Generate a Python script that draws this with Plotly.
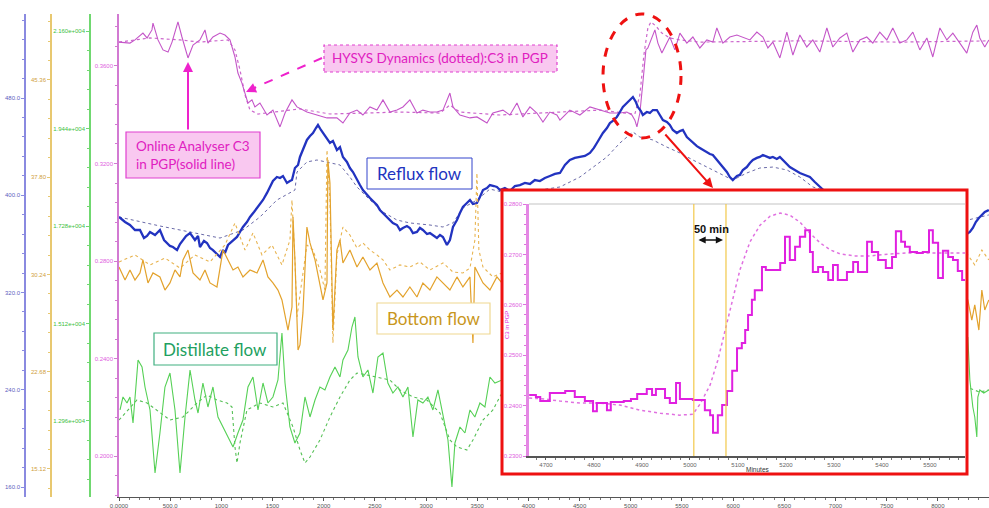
import plotly.graph_objects as go

# ---------------- main trend: time axis in minutes ----------------
c3_online_t = [0, 107, 156, 234, 274, 322, 332, 381, 430, 479,
               518, 576, 615, 674, 723, 791, 840, 869, 918, 987,
               1035, 1084, 1133, 1162, 1201, 1231, 1260, 1299, 1328, 1377,
               1446, 1504, 1573, 1622, 1690, 1739, 1836, 1934, 2032, 2129,
               2188, 2256, 2325, 2383, 2452, 2520, 2579, 2647, 2716, 2774,
               2842, 2911, 2969, 3038, 3106, 3165, 3233, 3263, 3331, 3429,
               3497, 3595, 3653, 3751, 3819, 3888, 3946, 4015, 4083, 4142,
               4210, 4278, 4308, 4405, 4503, 4601, 4698, 4796, 4894, 4962,
               5011, 5040, 5060, 5089, 5118, 5148, 5167, 5206, 5236, 5265,
               5304, 5333, 5382, 5431, 5480, 5548, 5607, 5675, 5743, 5802,
               5841, 5900, 5968, 6037, 6095, 6164, 6232, 6291, 6340, 6388,
               6457, 6525, 6584, 6652, 6720, 6779, 6847, 6916, 6974, 7043,
               7111, 7170, 7238, 7306, 7365, 7433, 7502, 7560, 7629, 7697,
               7756, 7824, 7893, 7951, 8020, 8088, 8147, 8215, 8283, 8342,
               8381, 8410, 8459, 8498]
c3_online = [0.3698, 0.3694, 0.3707, 0.3735, 0.3715, 0.3748, 0.3776, 0.3707, 0.3666, 0.3657,
             0.3698, 0.3781, 0.3719, 0.3633, 0.3686, 0.3707, 0.3748, 0.3694, 0.3719, 0.3735,
             0.3727, 0.3707, 0.3637, 0.3571, 0.3530, 0.3489, 0.3448, 0.3461, 0.3432, 0.3448,
             0.3399, 0.3419, 0.3350, 0.3407, 0.3461, 0.3432, 0.3411, 0.3399, 0.3387, 0.3387,
             0.3366, 0.3407, 0.3419, 0.3399, 0.3432, 0.3419, 0.3461, 0.3411, 0.3419, 0.3432,
             0.3461, 0.3407, 0.3419, 0.3411, 0.3411, 0.3419, 0.3489, 0.3432, 0.3399, 0.3387,
             0.3391, 0.3366, 0.3407, 0.3419, 0.3399, 0.3448, 0.3391, 0.3432, 0.3407, 0.3370,
             0.3411, 0.3399, 0.3378, 0.3419, 0.3399, 0.3432, 0.3419, 0.3407, 0.3407, 0.3411,
             0.3399, 0.3378, 0.3350, 0.3407, 0.3530, 0.3666, 0.3674, 0.3719, 0.3748, 0.3694,
             0.3653, 0.3678, 0.3719, 0.3666, 0.3735, 0.3694, 0.3719, 0.3674, 0.3707, 0.3698,
             0.3756, 0.3694, 0.3719, 0.3727, 0.3719, 0.3707, 0.3739, 0.3719, 0.3674, 0.3698,
             0.3633, 0.3739, 0.3645, 0.3727, 0.3678, 0.3707, 0.3657, 0.3756, 0.3678, 0.3715,
             0.3735, 0.3657, 0.3707, 0.3719, 0.3694, 0.3739, 0.3707, 0.3756, 0.3694, 0.3707,
             0.3739, 0.3666, 0.3715, 0.3637, 0.3756, 0.3707, 0.3735, 0.3694, 0.3653, 0.3739,
             0.3768, 0.3715, 0.3678, 0.3707]

c3_hysys_t = [0, 303, 596, 791, 1065, 1133, 1182, 1231, 1280, 1358,
              1768, 2061, 2745, 3136, 3233, 3331, 3722, 4308, 4698, 4943,
              5040, 5089, 5128, 5167, 5197, 5245, 5304, 5382, 5480, 5675,
              6652, 7629, 8498]
c3_hysys = [0.3698, 0.3715, 0.3707, 0.3698, 0.3707, 0.3666, 0.3584, 0.3481, 0.3419, 0.3403,
            0.3424, 0.3403, 0.3411, 0.3407, 0.3440, 0.3411, 0.3399, 0.3411, 0.3419, 0.3407,
            0.3403, 0.3481, 0.3645, 0.3756, 0.3781, 0.3764, 0.3735, 0.3715, 0.3707, 0.3698,
            0.3703, 0.3698, 0.3703]

reflux_t = [0, 59, 107, 156, 205, 244, 274, 303, 352, 400,
            440, 469, 498, 527, 567, 596, 625, 655, 694, 742,
            772, 791, 830, 860, 889, 918, 957, 987, 1016, 1035,
            1065, 1084, 1114, 1153, 1182, 1211, 1250, 1280, 1319, 1348,
            1377, 1407, 1446, 1475, 1504, 1543, 1573, 1602, 1641, 1670,
            1690, 1719, 1749, 1768, 1807, 1836, 1866, 1895, 1924, 1944,
            1973, 1993, 2022, 2061, 2090, 2129, 2159, 2188, 2227, 2256,
            2286, 2325, 2354, 2383, 2423, 2452, 2491, 2520, 2549, 2579,
            2618, 2647, 2676, 2716, 2745, 2774, 2813, 2842, 2872, 2911,
            2940, 2969, 3009, 3038, 3077, 3106, 3136, 3165, 3204, 3233,
            3263, 3302, 3331, 3360, 3399, 3429, 3458, 3497, 3526, 3556,
            3595, 3624, 3663, 3692, 3722, 3770, 3819, 3868, 3917, 3966,
            4015, 4063, 4112, 4161, 4210, 4259, 4308, 4357, 4405, 4454,
            4503, 4552, 4601, 4640, 4669, 4698, 4728, 4767, 4796, 4825,
            4864, 4894, 4923, 4952, 4991, 5021, 5050, 5069, 5099, 5118,
            5157, 5187, 5216, 5255, 5284, 5314, 5353, 5382, 5411, 5450,
            5480, 5509, 5548, 5577, 5607, 5646, 5675, 5704, 5743, 5773,
            5802, 5841, 5870, 5900, 5939, 5968, 5997, 6037, 6066, 6095,
            6134, 6164, 6193, 6232, 6261, 6291, 6330, 6359, 6388, 6427,
            6457, 6505, 6554, 6603, 6652, 6701, 6750, 6798, 6847, 6896,
            6945, 7043, 7238, 7433, 7629, 7824, 8020, 8215, 8283, 8313,
            8342, 8371, 8401, 8430, 8459, 8498]
reflux = [382.1, 378.0, 375.5, 371.4, 371.4, 364.8, 366.5, 369.8, 367.3, 371.4,
          363.2, 360.7, 358.3, 357.4, 354.9, 359.9, 363.2, 366.5, 368.9, 363.2,
          366.5, 357.4, 362.4, 360.7, 356.6, 354.9, 351.7, 349.2, 354.9, 352.5,
          359.1, 360.7, 363.2, 365.7, 369.8, 373.9, 378.0, 382.1, 386.2, 389.5,
          392.8, 396.1, 401.9, 406.8, 411.7, 415.0, 414.2, 415.8, 410.1, 411.7,
          412.5, 422.4, 424.9, 431.5, 438.9, 445.5, 448.7, 451.2, 455.3, 457.8,
          453.7, 451.2, 447.1, 443.0, 444.7, 437.2, 439.6, 431.5, 427.4, 422.4,
          419.1, 412.5, 408.4, 404.3, 400.2, 397.7, 394.4, 392.0, 387.9, 385.4,
          382.1, 379.6, 377.2, 375.5, 371.4, 373.1, 374.7, 373.1, 368.9, 369.8,
          373.1, 371.4, 368.1, 368.9, 366.5, 364.8, 367.3, 365.7, 359.1, 363.2,
          373.9, 379.6, 385.4, 390.3, 393.6, 396.1, 392.8, 393.6, 398.5, 404.3,
          405.9, 408.4, 407.6, 406.8, 404.3, 405.9, 403.5, 407.6, 408.4, 410.1,
          409.3, 412.5, 411.7, 414.2, 415.8, 417.5, 418.3, 424.9, 429.0, 430.7,
          431.5, 432.3, 434.8, 438.9, 443.0, 447.1, 451.2, 455.3, 459.4, 461.1,
          464.4, 468.5, 472.6, 475.1, 478.4, 480.8, 476.7, 472.6, 469.3, 466.0,
          468.5, 467.7, 470.1, 470.1, 466.0, 461.9, 460.3, 457.8, 453.7, 451.2,
          452.8, 453.7, 447.9, 445.5, 443.0, 440.4, 438.9, 437.2, 435.6, 433.9,
          433.1, 429.0, 426.5, 423.2, 419.1, 415.0, 412.5, 415.8, 416.7, 420.8,
          423.2, 426.5, 429.0, 430.7, 431.5, 433.1, 431.5, 430.7, 431.5, 429.8,
          431.5, 427.4, 423.2, 420.8, 418.3, 416.7, 415.0, 410.9, 406.8, 403.5,
          399.3, 396.1, 392.0, 387.9, 383.8, 379.6, 373.1, 368.9, 368.1, 369.8,
          373.1, 378.0, 381.3, 383.8, 386.2, 387.9]

reflux_hysys_t = [0, 205, 400, 596, 791, 987, 1211, 1377, 1543, 1670,
                  1719, 1739, 1836, 1934, 2032, 2159, 2256, 2325, 2452, 2579,
                  2716, 2842, 3038, 3165, 3263, 3360, 3497, 3624, 3741, 3917,
                  4112, 4308, 4503, 4630, 4767, 4894, 4962, 5021, 5089, 5216,
                  5353, 5480, 5607, 5743, 5870, 5997, 6134, 6261, 6388, 6525,
                  6652, 6779, 7043, 7629, 8215, 8498]
reflux_hysys = [382.1, 378.0, 374.7, 371.4, 368.1, 364.8, 371.4, 382.1, 396.1, 401.9,
                404.3, 419.1, 427.4, 429.0, 427.4, 424.9, 415.0, 406.8, 396.1, 386.2,
                379.6, 377.2, 375.5, 373.9, 377.2, 389.5, 396.1, 405.1, 402.7, 401.9,
                404.3, 406.8, 415.0, 423.2, 431.5, 443.0, 447.9, 452.0, 447.9, 445.5,
                439.6, 434.8, 429.0, 423.2, 418.3, 412.5, 418.3, 422.4, 423.2, 420.8,
                415.0, 406.8, 400.2, 387.9, 378.0, 383.8]

bottom_t = [0, 59, 107, 156, 205, 234, 283, 332, 400, 449,
            498, 547, 596, 625, 674, 723, 791, 840, 889, 957,
            1016, 1065, 1114, 1162, 1211, 1280, 1348, 1407, 1455, 1504,
            1553, 1592, 1622, 1651, 1690, 1700, 1719, 1749, 1768, 1797,
            1836, 1866, 1915, 1963, 1993, 2032, 2041, 2061, 2081, 2090,
            2129, 2159, 2188, 2256, 2325, 2383, 2452, 2520, 2579, 2647,
            2716, 2774, 2842, 2911, 2969, 3038, 3106, 3165, 3233, 3302,
            3360, 3429, 3458, 3477, 3556, 3624, 3692, 3741, 4210, 4698,
            5187, 5675, 6164, 6652, 7140, 7629, 8117, 8293, 8332, 8361,
            8401, 8430, 8459, 8498]
bottom = [30.82, 29.81, 30.59, 29.81, 30.36, 31.37, 29.58, 30.36, 30.05, 29.03,
          29.58, 30.59, 30.05, 31.37, 32.14, 30.36, 29.81, 30.59, 29.58, 29.27,
          32.14, 31.37, 30.59, 30.82, 30.05, 30.59, 30.36, 31.37, 30.05, 29.58,
          29.03, 28.26, 26.94, 25.92, 27.71, 34.71, 31.37, 24.37, 24.76, 27.25,
          33.93, 32.69, 31.37, 29.58, 28.26, 29.58, 39.14, 37.35, 29.03, 25.92,
          32.14, 32.92, 31.13, 32.14, 30.82, 31.60, 30.59, 31.13, 29.58, 28.49,
          29.03, 28.49, 29.27, 28.49, 29.58, 29.03, 30.05, 29.58, 29.03, 30.05,
          29.27, 30.05, 24.92, 30.82, 29.58, 29.03, 30.05, 29.58, 29.81, 30.20,
          29.42, 29.81, 30.20, 29.42, 29.81, 29.03, 29.42, 28.26, 26.70, 27.87,
          25.92, 29.03, 27.48, 28.26]

bottom_hysys_t = [0, 156, 303, 449, 596, 742, 889, 1035, 1133, 1231,
                  1309, 1397, 1495, 1592, 1670, 1690, 1719, 1739, 1788, 1836,
                  1895, 1963, 2012, 2032, 2061, 2090, 2129, 2188, 2256, 2325,
                  2383, 2452, 2520, 2579, 2647, 2745, 2842, 2940, 3038, 3165,
                  3263, 3360, 3429, 3477, 3497, 3516, 3556, 3653, 3741, 4698,
                  5675, 6652, 7629, 8293, 8361, 8430, 8498]
bottom_hysys = [31.21, 31.76, 30.98, 31.52, 30.74, 31.76, 31.21, 32.53, 34.24, 32.14,
                33.47, 31.76, 32.53, 30.98, 32.92, 36.03, 31.37, 26.94, 29.81, 32.53,
                32.14, 30.59, 29.03, 39.92, 36.03, 24.92, 31.76, 33.93, 33.31, 32.30,
                32.69, 32.14, 31.76, 31.37, 30.59, 30.98, 30.82, 31.21, 30.59, 31.13,
                30.43, 30.36, 30.74, 32.92, 38.13, 32.14, 30.82, 30.05, 30.36, 30.98,
                30.59, 30.98, 30.59, 31.76, 30.98, 32.14, 31.37]

distillate_t = [10, 39, 78, 107, 137, 186, 225, 254, 303, 352,
                400, 449, 498, 547, 596, 645, 694, 742, 772, 820,
                869, 918, 967, 1016, 1065, 1114, 1162, 1211, 1260, 1309,
                1358, 1407, 1455, 1504, 1553, 1592, 1622, 1670, 1719, 1768,
                1817, 1866, 1915, 1963, 2012, 2061, 2110, 2159, 2188, 2237,
                2276, 2305, 2335, 2383, 2432, 2481, 2530, 2579, 2627, 2676,
                2725, 2774, 2823, 2872, 2920, 2969, 3018, 3067, 3116, 3165,
                3214, 3253, 3282, 3331, 3380, 3429, 3477, 3526, 3575, 3624,
                3673, 3741, 4210, 4698, 5187, 5675, 6164, 6652, 7140, 7629,
                8117, 8293, 8313, 8342, 8361, 8381, 8391, 8410, 8449, 8498]
distillate = [13204, 13492, 13359, 13492, 12916, 14311, 14156, 13713, 13204, 11808,
              12694, 13713, 14023, 13204, 11808, 13049, 14090, 13425, 13137, 13802,
              13270, 13713, 13049, 12827, 12606, 12384, 12694, 12982, 13713, 13935,
              13204, 13802, 13359, 13492, 13868, 14910, 13802, 12827, 12473, 12694,
              13492, 13049, 13425, 13713, 13647, 13935, 14156, 13935, 14311, 14533,
              15042, 15264, 14378, 13935, 14090, 13580, 14378, 14467, 13802, 13580,
              13713, 13492, 13713, 12606, 13425, 13359, 13492, 13204, 13647, 13049,
              12539, 11498, 12473, 12827, 12694, 13204, 13049, 13359, 13270, 13935,
              13802, 13868, 13400, 13600, 13300, 13500, 13200, 13400, 13100, 13300,
              13500, 14821, 13868, 13270, 13049, 12606, 13492, 13647, 13580, 13647]

distillate_hysys_t = [0, 176, 274, 400, 498, 625, 762, 860, 957, 1055,
                      1104, 1133, 1153, 1182, 1250, 1377, 1504, 1602, 1700, 1768,
                      1817, 1866, 1963, 2061, 2159, 2256, 2325, 2423, 2520, 2647,
                      2745, 2872, 3009, 3136, 3233, 3302, 3399, 3458, 3556, 3653,
                      3741, 4698, 5675, 6652, 7629, 8293, 8410, 8498]
distillate_hysys = [12982, 13425, 13359, 13137, 12982, 13049, 13359, 13536, 13425, 13359,
                    13270, 12384, 12029, 12473, 13204, 13359, 13270, 13359, 12827, 12317,
                    12029, 12162, 12539, 13049, 13492, 13868, 14023, 13979, 13935, 13868,
                    13647, 13492, 13425, 13137, 12539, 12384, 12317, 12539, 12982, 13204,
                    13580, 13500, 13400, 13300, 13400, 13700, 13600, 13650]

# ---------------- zoomed view around the C3 step ----------------
zoom_online_t = [4665, 4679, 4688, 4708, 4740, 4760, 4781, 4798, 4806, 4827,
                 4835, 4862, 4877, 4890, 4910, 4921, 4929, 4948, 4958, 4971,
                 4979, 5006, 5031, 5042, 5048, 5058, 5067, 5077, 5088, 5098,
                 5108, 5115, 5121, 5129, 5135, 5150, 5158, 5188, 5198, 5208,
                 5219, 5229, 5240, 5250, 5256, 5267, 5277, 5288, 5298, 5308,
                 5327, 5340, 5350, 5369, 5379, 5392, 5408, 5421, 5429, 5440,
                 5448, 5458, 5473, 5485, 5498, 5506, 5517, 5527, 5538, 5548,
                 5558, 5567, 5573]
zoom_online = [0.2421, 0.2417, 0.2409, 0.2425, 0.2429, 0.2417, 0.2409, 0.2389, 0.2405, 0.2391,
               0.2407, 0.2409, 0.2413, 0.2423, 0.2433, 0.2421, 0.2433, 0.2415, 0.2405, 0.2445,
               0.2413, 0.2411, 0.2391, 0.2381, 0.2346, 0.2381, 0.2401, 0.2429, 0.2469, 0.2514,
               0.2524, 0.2550, 0.2580, 0.2610, 0.2629, 0.2675, 0.2669, 0.2683, 0.2735, 0.2689,
               0.2715, 0.2735, 0.2748, 0.2705, 0.2665, 0.2675, 0.2665, 0.2649, 0.2679, 0.2649,
               0.2665, 0.2685, 0.2665, 0.2725, 0.2705, 0.2689, 0.2673, 0.2695, 0.2746, 0.2725,
               0.2715, 0.2705, 0.2703, 0.2705, 0.2748, 0.2723, 0.2653, 0.2707, 0.2695, 0.2689,
               0.2667, 0.2649, 0.2649]

zoom_hysys_t = [4665, 4698, 4729, 4771, 4813, 4854, 4896, 4938, 4979, 5006,
                5021, 5042, 5058, 5071, 5083, 5104, 5125, 5146, 5167, 5188,
                5208, 5229, 5250, 5271, 5292, 5313, 5344, 5375, 5417, 5458,
                5500, 5542, 5573]
zoom_hysys = [0.2415, 0.2413, 0.2409, 0.2405, 0.2405, 0.2401, 0.2391, 0.2385, 0.2381, 0.2383,
              0.2403, 0.2441, 0.2490, 0.2540, 0.2590, 0.2669, 0.2725, 0.2758, 0.2776, 0.2782,
              0.2778, 0.2764, 0.2742, 0.2723, 0.2709, 0.2701, 0.2697, 0.2697, 0.2701, 0.2703,
              0.2703, 0.2703, 0.2703]

# the two markers bounding the analyser dead time
lag_start, lag_end = 5008, 5075

time_ticks = [0, 500, 1000, 1500, 2000, 2500, 3000, 3500, 4000,
              4500, 5000, 5500, 6000, 6500, 7000, 7500, 8000, 8500]
time_labels = ["0.0000", "500.0"] + [str(v) for v in time_ticks[2:]]
c3_ticks = [0.20, 0.24, 0.28, 0.32, 0.36]
reflux_ticks = [160, 240, 320, 400, 480]
bottom_ticks = [15.12, 22.68, 30.24, 37.80, 45.36]
distillate_ticks = [12960, 15120, 17280, 19440, 21600]
distillate_labels = ["1.296e+004", "1.512e+004", "1.728e+004", "1.944e+004", "2.160e+004"]

W, H = 989, 508


def px(x):
    return x / W


def py(y):
    return 1 - y / H


MAGENTA = "#c455c8"
BLUE = "#2233c0"
ORANGE = "#e3a22c"
GREEN = "#55d055"
TICKFONT = "Liberation Sans"

fig = go.Figure()

# --- main traces ---
fig.add_trace(go.Scatter(x=c3_hysys_t, y=c3_hysys, mode="lines", yaxis="y",
                         line=dict(color="#cc66cc", width=1.2, dash="dot")))
fig.add_trace(go.Scatter(x=c3_online_t, y=c3_online, mode="lines", yaxis="y",
                         line=dict(color=MAGENTA, width=1.1)))
fig.add_trace(go.Scatter(x=reflux_hysys_t, y=reflux_hysys, mode="lines", yaxis="y2",
                         line=dict(color="#6a6aa8", width=1, dash="dot")))
fig.add_trace(go.Scatter(x=reflux_t, y=reflux, mode="lines", yaxis="y2",
                         line=dict(color=BLUE, width=2.3)))
fig.add_trace(go.Scatter(x=bottom_hysys_t, y=bottom_hysys, mode="lines", yaxis="y3",
                         line=dict(color="#e8b450", width=1.1, dash="dot")))
fig.add_trace(go.Scatter(x=bottom_t, y=bottom, mode="lines", yaxis="y3",
                         line=dict(color=ORANGE, width=1.2)))
fig.add_trace(go.Scatter(x=distillate_hysys_t, y=distillate_hysys, mode="lines", yaxis="y4",
                         line=dict(color="#55c055", width=1.1, dash="dot")))
fig.add_trace(go.Scatter(x=distillate_t, y=distillate, mode="lines", yaxis="y4",
                         line=dict(color=GREEN, width=1.1)))

# --- white panel behind the zoomed view ---
fig.add_trace(go.Scatter(x=[None], y=[None], xaxis="x2", yaxis="y5", mode="lines",
                         hoverinfo="skip"))

# --- zoomed view ---
fig.add_trace(go.Scatter(x=zoom_hysys_t, y=zoom_hysys, mode="lines", xaxis="x3", yaxis="y6",
                         line=dict(color="#e070e0", width=1.5, dash="dot")))
fig.add_trace(go.Scatter(x=zoom_online_t, y=zoom_online, mode="lines", xaxis="x3", yaxis="y6",
                         line=dict(color="#e020e0", width=2, shape="hv")))


def left_axis(color, label_color, rng, vals, texts, minor_dtick, tick0, **extra):
    d = dict(range=rng, showline=True, linecolor=color, linewidth=1.5,
             ticks="outside", ticklen=3, tickcolor=color,
             tickmode="array", tickvals=vals, ticktext=texts,
             tickfont=dict(size=6, color=label_color, family=TICKFONT),
             minor=dict(ticks="outside", ticklen=2, tickcolor=color,
                        dtick=minor_dtick, tick0=tick0, showgrid=False),
             showgrid=False, zeroline=False, fixedrange=True, automargin=False)
    d.update(extra)
    return d


hidden = dict(showline=False, showticklabels=False, ticks="", showgrid=False,
              zeroline=False, range=[0, 1], fixedrange=True, automargin=False)

fig.update_layout(
    width=W, height=H, autosize=False,
    margin=dict(l=0, r=0, t=0, b=0, pad=0, autoexpand=False),
    paper_bgcolor="white", plot_bgcolor="white", showlegend=False,
    xaxis=dict(domain=[px(119), 1.0], range=[0, 8500], anchor="y",
               showline=True, linecolor="#555555", linewidth=1,
               ticks="outside", ticklen=3, tickcolor="#555555",
               tickmode="array", tickvals=time_ticks, ticktext=time_labels,
               tickfont=dict(size=6, color="#555555", family=TICKFONT),
               minor=dict(ticks="outside", ticklen=2, tickcolor="#777777",
                          dtick=100, tick0=0, showgrid=False),
               showgrid=False, zeroline=False, fixedrange=True, automargin=False),
    yaxis=left_axis("#d27ad2", "#e060e0", [0.18318, 0.38133], c3_ticks,
                    ["%.4f" % v for v in c3_ticks], 0.008, 0.2,
                    domain=[py(497), py(14)], anchor="x"),
    yaxis2=left_axis("#8a8ae0", "#6060c0", [151.77, 549.1], reflux_ticks,
                     ["%.1f" % v for v in reflux_ticks], 16, 160,
                     overlaying="y", anchor="free", position=px(25), side="left"),
    yaxis3=left_axis("#e8c870", "#d0a040", [12.94, 50.49], bottom_ticks,
                     ["%.2f" % v for v in bottom_ticks], 1.512, 15.12,
                     overlaying="y", anchor="free", position=px(51), side="left"),
    yaxis4=left_axis("#70d870", "#40c040", [11276, 21977], distillate_ticks,
                     distillate_labels, 432, 12960,
                     overlaying="y", anchor="free", position=px(90), side="left"),
    xaxis2=dict(domain=[px(502), px(967)], anchor="y5", **hidden),
    yaxis5=dict(domain=[py(474), py(190)], anchor="x2", **hidden),
    xaxis3=dict(domain=[px(529), px(965)], anchor="y6", range=[4664.6, 5573],
                showline=True, linecolor="#555555", linewidth=1.5,
                ticks="outside", ticklen=2, tickcolor="#555555",
                tick0=4700, dtick=100, tickformat="d",
                tickfont=dict(size=6, color="#666666", family=TICKFONT),
                minor=dict(ticks="outside", ticklen=2, tickcolor="#777777",
                           dtick=20, tick0=4700, showgrid=False),
                showgrid=False, zeroline=False, fixedrange=True, automargin=False),
    yaxis6=dict(domain=[py(456), py(204)], anchor="x3", range=[0.23, 0.28],
                showline=True, linecolor="#e488e4", linewidth=2.5,
                ticks="outside", ticklen=3, tickcolor="#e070e0",
                tick0=0.23, dtick=0.01, tickformat=".4f",
                tickfont=dict(size=6, color="#e060e0", family=TICKFONT),
                minor=dict(ticks="outside", ticklen=2, tickcolor="#e070e0",
                           dtick=0.002, tick0=0.23, showgrid=False),
                showgrid=False, zeroline=False, fixedrange=True, automargin=False),
)

shapes = [
    # frame line on top of the zoomed view
    dict(type="line", xref="paper", yref="paper", x0=px(529), x1=px(965),
         y0=py(204), y1=py(204), line=dict(color="#c4c4c4", width=1.2)),
    # dead-time markers
    dict(type="line", xref="x3", yref="y6", x0=lag_start, x1=lag_start, y0=0.23, y1=0.28,
         line=dict(color="#f2c84a", width=1.2)),
    dict(type="line", xref="x3", yref="y6", x0=lag_end, x1=lag_end, y0=0.23, y1=0.28,
         line=dict(color="#f2c84a", width=1.2)),
    # red frame round the zoomed view
    dict(type="rect", xref="paper", yref="paper", x0=px(502), x1=px(967),
         y0=py(474), y1=py(190), line=dict(color="#ee1111", width=3)),
    # dashed ellipse on the step change
    dict(type="circle", xref="paper", yref="paper", x0=px(603), x1=px(681),
         y0=py(138), y1=py(14), line=dict(color="#ee1111", width=3, dash="dash")),
    # callout boxes
    dict(type="rect", xref="paper", yref="paper", x0=px(126), x1=px(260),
         y0=py(178), y1=py(132), fillcolor="#f9c8f0", line=dict(color="#e040d0", width=1.2)),
    dict(type="rect", xref="paper", yref="paper", x0=px(324), x1=px(557),
         y0=py(72), y1=py(45), fillcolor="#f9c8f0",
         line=dict(color="#e040d0", width=1.2, dash="dot")),
    dict(type="rect", xref="paper", yref="paper", x0=px(367), x1=px(472),
         y0=py(189), y1=py(158), fillcolor="white", line=dict(color="#3344cc", width=1)),
    dict(type="rect", xref="paper", yref="paper", x0=px(377), x1=px(490),
         y0=py(334), y1=py(303), fillcolor="white", line=dict(color="#efd890", width=1.2)),
    dict(type="rect", xref="paper", yref="paper", x0=px(154), x1=px(277),
         y0=py(365), y1=py(333), fillcolor="white", line=dict(color="#40b080", width=1.2)),
    # dashed pointer from the simulation callout
    dict(type="line", xref="paper", yref="paper", x0=px(322), x1=px(254),
         y0=py(58), y1=py(88), line=dict(color="#ee22cc", width=2, dash="dash")),
]
for s in shapes:
    s["layer"] = "above"
fig.update_layout(shapes=shapes)

CALLOUT = "Lato"
annotations = [
    dict(x=px(193), y=py(155), text="Online Analyser C3<br>in PGP(solid line)",
         font=dict(size=13.5, color="#e020c0", family=CALLOUT), align="left"),
    dict(x=px(440), y=py(58), text="HYSYS Dynamics (dotted):C3 in PGP",
         font=dict(size=13.5, color="#e020c0", family=CALLOUT)),
    dict(x=px(419), y=py(173), text="Reflux flow",
         font=dict(size=17, color="#2233c0", family=CALLOUT)),
    dict(x=px(433), y=py(318), text="Bottom flow",
         font=dict(size=17, color="#c89620", family=CALLOUT)),
    dict(x=px(215), y=py(349), text="Distillate flow",
         font=dict(size=17, color="#22a060", family=CALLOUT)),
    dict(x=px(711), y=py(229), text="<b>50 min</b>",
         font=dict(size=11, color="#111111", family="Liberation Sans")),
    dict(x=px(758), y=py(469), text="Minutes",
         font=dict(size=6.5, color="#333333", family=TICKFONT)),
    dict(x=px(507), y=py(325), text="C3 in PGP", textangle=-90,
         font=dict(size=6, color="#e020e0", family=TICKFONT)),
    # arrows
    dict(x=px(188), y=py(62), ax=0, ay=69, text="", showarrow=True,
         arrowhead=2, arrowsize=1, arrowwidth=2, arrowcolor="#ee22cc"),
    dict(x=px(246), y=py(92), ax=11, ay=-5, text="", showarrow=True,
         arrowhead=2, arrowsize=1, arrowwidth=2, arrowcolor="#ee22cc"),
    dict(x=px(713), y=py(188), ax=-49, ay=-55, text="", showarrow=True,
         arrowhead=2, arrowsize=1, arrowwidth=2, arrowcolor="#ee1111"),
    dict(x=px(723), y=py(240), ax=-26, ay=0, text="", showarrow=True,
         arrowside="end+start", arrowhead=2, startarrowhead=2,
         arrowsize=0.9, startarrowsize=0.9, arrowwidth=1.6, arrowcolor="#111111"),
]
for a in annotations:
    a.setdefault("xref", "paper")
    a.setdefault("yref", "paper")
    a.setdefault("showarrow", False)
    a.setdefault("xanchor", "center")
    a.setdefault("yanchor", "middle")
fig.update_layout(annotations=annotations)

# the page body has a default margin; drop it so the figure sits at the window's corner
fig.write_html("out.html", post_script="document.body.style.margin='0';")
